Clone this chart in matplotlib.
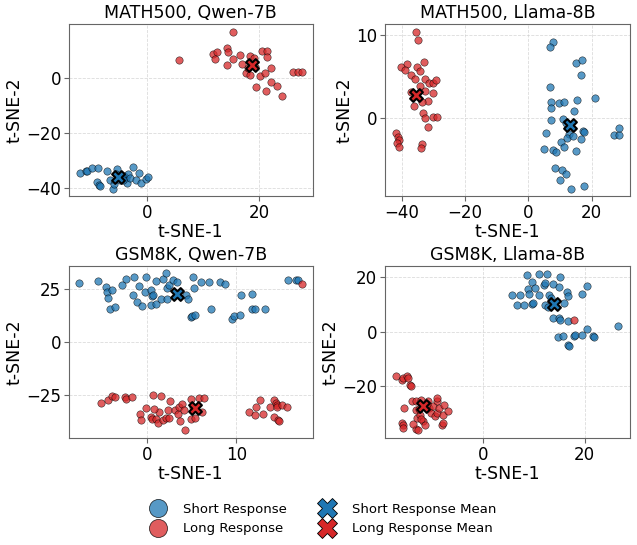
import matplotlib
matplotlib.use("Agg")
import matplotlib.pyplot as plt
from matplotlib.lines import Line2D

short_color = "#1f77b4"
long_color = "#d62728"

titles = ["MATH500, Qwen-7B", "MATH500, Llama-8B", "GSM8K, Qwen-7B", "GSM8K, Llama-8B"]

# MATH500, Qwen-7B
m_qwen_short_x = [-12.0, -11.0, -10.7, -9.9, -8.8, -9.0, -8.7, -8.5, -7.2, -6.7, -6.2, -5.9, -5.4,
                  -4.2, -3.8, -3.6, -3.4, -3.1, -2.6, -2.0, -1.2, -1.5, -0.2, 0.2, -4.9, -4.6, -5.6, -4.4]
m_qwen_short_y = [-34.4, -33.8, -33.6, -32.6, -32.7, -37.6, -38.8, -39.2, -33.8, -36.9, -40.1, -38.5, -33.0,
                  -35.4, -36.1, -37.9, -34.6, -36.3, -32.4, -37.0, -38.1, -34.3, -36.4, -35.8, -37.0, -35.6, -34.9, -36.8]
m_qwen_long_x = [5.6, 15.3, 11.7, 12.4, 12.1, 14.2, 14.3, 14.2, 15.3, 16.5, 16.9, 18.3, 19.1, 17.6, 18.3,
                 19.4, 20.1, 20.5, 21.4, 21.4, 21.0, 22.1, 22.0, 21.1, 23.2, 24.0, 25.9, 26.8, 27.6, 19.2, 17.9]
m_qwen_long_y = [6.3, 16.7, 8.7, 9.4, 6.8, 10.8, 9.3, 4.5, 7.0, 8.3, 5.1, 8.0, 7.3, 1.9, 1.0,
                 -3.3, 0.7, 9.8, 9.9, 7.6, 1.9, 3.7, -1.6, -4.7, -2.9, -6.4, 2.3, 2.3, 2.3, 4.0, 3.6]

# MATH500, Llama-8B
m_llama_short_x = [7.7, 6.7, 15.0, 17.0, 16.6, 6.7, 21.1, 15.2, 7.2, 7.0, 9.7, 11.1, 14.4, 7.0, 10.9, 12.0,
                   5.7, 12.9, 12.3, 14.0, 17.3, 17.7, 16.6, 10.3, 11.1, 4.9, 7.7, 8.6, 15.0, 8.3, 10.5, 11.8,
                   10.1, 13.4, 17.6, 27.2, 28.5, 28.5]
m_llama_short_y = [9.1, 8.5, 6.6, 7.0, 5.2, 3.8, 2.4, 2.2, 2.0, 1.2, 1.9, 2.0, 0.9, -0.2, -0.1, -0.5,
                   -1.7, -1.9, -2.3, -2.1, -1.5, -1.6, -2.5, -2.8, -3.4, -3.7, -3.8, -4.0, -3.9, -5.9, -6.2, -6.6,
                   -7.4, -8.4, -8.1, -2.0, -2.0, -1.2]
m_llama_long_x = [-35.4, -35.0, -38.4, -40.2, -38.9, -33.1, -35.2, -34.3, -37.1, -35.8, -32.6, -31.4, -30.2,
                  -29.1, -34.4, -37.0, -32.8, -30.3, -31.8, -36.1, -33.7, -33.2, -32.7, -30.2, -28.9, -31.8,
                  -42.0, -41.2, -40.8, -41.5, -40.8, -33.7, -33.9]
m_llama_long_y = [10.4, 9.4, 6.5, 6.1, 5.8, 6.7, 6.1, 5.7, 5.2, 4.7, 4.7, 4.3, 4.2,
                  4.6, 3.9, 3.2, 3.3, 3.1, 2.1, 1.5, 2.0, 0.6, 0.0, 0.2, 0.2, -1.0,
                  -1.7, -2.2, -2.6, -2.9, -3.4, -3.1, -3.5]

# GSM8K, Qwen-7B
g_qwen_short_x = [-7.6, -5.5, -4.6, -4.5, -4.4, -4.2, -3.9, -3.6, -2.8, -2.4, -1.5, -1.6, -1.1, -0.9, -0.6,
                  -0.2, -0.1, 0.4, 0.6, 0.7, 0.4, 1.0, 1.0, 1.5, 1.8, 2.1, 2.2, 2.2, 2.5, 2.9, 3.3, 4.4,
                  4.6, 5.1, 5.3, 4.9, 5.0, 5.4, 6.1, 6.9, 7.2, 8.2, 8.7, 9.5, 9.7, 10.4, 10.5, 11.8, 11.8,
                  12.1, 13.2, 15.8, 16.7, 16.9]
g_qwen_short_y = [27.7, 28.9, 25.8, 23.4, 20.8, 15.6, 24.4, 16.7, 26.9, 29.6, 30.5, 22.3, 19.0, 26.3, 17.0,
                  23.7, 30.8, 24.7, 21.5, 22.3, 17.6, 17.8, 28.5, 20.4, 29.7, 32.5, 25.5, 20.4, 26.7, 29.1, 28.3, 21.9,
                  20.1, 30.5, 25.2, 11.8, 12.1, 12.9, 28.3, 28.3, 15.3, 28.3, 27.2, 10.8, 12.3, 12.6, 21.9, 22.6, 15.3,
                  15.3, 15.7, 29.2, 29.1, 29.1]
g_qwen_long_x = [17.4, -5.2, -4.4, -3.9, -3.6, -2.5, -2.4, -1.7, -0.8, -0.7, -0.1, 0.7, 1.6, 0.4, 0.5, 1.0,
                 1.2, 1.3, 0.8, 1.8, 2.1, 2.4, 2.3, 2.6, 3.1, 3.5, 3.6, 3.9, 3.7, 4.1, 4.2, 4.9, 5.1, 4.9,
                 5.4, 5.8, 6.4, 6.2, 11.4, 12.1, 12.2, 12.7, 13.0, 13.8, 14.2, 14.5, 14.6, 14.6, 14.3, 14.7,
                 14.8, 15.2, 15.7]
g_qwen_long_y = [27.2, -28.5, -27.5, -25.3, -26.1, -25.9, -26.7, -25.9, -33.8, -36.9, -31.1, -25.0, -25.3, -35.5, -36.5, -36.3,
                 -38.1, -33.0, -31.6, -36.8, -35.7, -36.0, -32.2, -27.9, -32.1, -33.8, -30.5, -29.4, -37.1, -32.0, -41.4, -26.7, -30.5, -36.1,
                 -35.8, -26.6, -26.6, -33.2, -32.9, -34.6, -30.5, -27.5, -34.1, -30.5, -27.4, -28.9, -29.9, -30.8, -35.5, -36.6,
                 -37.0, -29.7, -30.7]

# GSM8K, Llama-8B
g_llama_short_x = [5.7, 7.2, 6.6, 8.0, 8.7, 8.9, 9.0, 9.6, 9.7, 9.8, 10.2, 11.0, 11.0, 12.0, 12.1, 12.5, 12.1,
                   12.8, 13.0, 13.3, 13.8, 15.0, 15.2, 15.9, 13.8, 15.0, 15.1, 16.5, 16.8, 16.7, 19.5, 20.5,
                   14.8, 15.8, 16.7, 16.9, 17.9, 18.1, 19.5, 20.4, 21.6, 21.8, 26.6]
g_llama_short_y = [13.5, 13.4, 9.8, 9.9, 20.9, 15.6, 13.9, 18.3, 10.3, 10.7, 16.0, 21.2, 13.5, 17.2, 17.9, 21.2, 9.8,
                   9.0, 13.7, 12.3, 17.7, 16.6, 20.2, 10.7, 4.9, 4.9, 4.2, 14.7, 13.0, 3.8, 14.0, 16.7,
                   -2.0, -1.7, -4.7, -5.2, -1.7, -1.1, -1.1, 1.0, -1.5, -2.0, 2.0]
g_llama_long_x = [17.9, -17.1, -15.9, -15.7, -14.9, -14.7, -14.4, -14.2, -15.6, -16.0, -15.7, -15.8, -14.0, -13.1,
                  -13.2, -12.8, -13.8, -13.1, -12.9, -12.4, -12.1, -11.7, -11.3, -10.8, -10.7, -10.2, -9.8, -9.5,
                  -9.1, -9.0, -9.0, -8.7, -8.0, -7.8, -7.9, -7.7, -6.9, -12.1, -11.0, -12.6]
g_llama_long_y = [4.5, -16.1, -17.7, -17.1, -16.2, -16.9, -19.4, -20.0, -27.9, -33.4, -34.2, -35.3, -25.6, -25.6,
                  -35.6, -36.1, -33.9, -28.7, -31.8, -30.6, -25.0, -32.9, -34.4, -25.6, -28.0, -29.8, -27.2, -30.9,
                  -29.9, -25.4, -24.2, -28.0, -34.2, -33.6, -30.7, -27.0, -29.1, -31.9, -26.5, -28.4]

# cluster means
short_means = [(-5.2, -35.8), (13.2, -0.8), (3.3, 22.6), (13.9, 10.1)]
long_means = [(18.7, 4.6), (-35.4, 2.8), (5.4, -31.1), (-11.7, -27.1)]

short_x = [m_qwen_short_x, m_llama_short_x, g_qwen_short_x, g_llama_short_x]
short_y = [m_qwen_short_y, m_llama_short_y, g_qwen_short_y, g_llama_short_y]
long_x = [m_qwen_long_x, m_llama_long_x, g_qwen_long_x, g_llama_long_x]
long_y = [m_qwen_long_y, m_llama_long_y, g_qwen_long_y, g_llama_long_y]

xlims = [(-14.0, 29.5), (-45.4, 32.1), (-8.8, 18.6), (-19.3, 28.9)]
ylims = [(-42.8, 19.5), (-9.3, 11.3), (-45.3, 35.8), (-39.1, 24.2)]
xticks = [[0, 20], [-40, -20, 0, 20], [0, 10], [0, 20]]
yticks = [[-40, -20, 0], [0, 10], [-25, 0, 25], [-20, 0, 20]]

fig = plt.figure(figsize=(6.37, 5.45), dpi=100)
positions = [[0.108, 0.640, 0.383, 0.316], [0.604, 0.640, 0.385, 0.316],
             [0.108, 0.196, 0.383, 0.316], [0.604, 0.196, 0.385, 0.316]]

for i in range(4):
    ax = fig.add_axes(positions[i])
    ax.scatter(short_x[i], short_y[i], s=28, color=short_color, alpha=0.75,
               edgecolors="black", linewidths=0.4, zorder=2)
    ax.scatter(long_x[i], long_y[i], s=28, color=long_color, alpha=0.75,
               edgecolors="black", linewidths=0.4, zorder=2)
    ax.scatter([short_means[i][0]], [short_means[i][1]], s=85, marker="X", color=short_color,
               edgecolors="black", linewidths=1.5, zorder=4)
    ax.scatter([long_means[i][0]], [long_means[i][1]], s=85, marker="X", color=long_color,
               edgecolors="black", linewidths=1.5, zorder=4)
    ax.set_xlim(xlims[i])
    ax.set_ylim(ylims[i])
    ax.set_xticks(xticks[i])
    ax.set_yticks(yticks[i])
    ax.grid(True, linestyle="--", linewidth=0.6, color="#cccccc", alpha=0.7, zorder=0)
    ax.set_axisbelow(True)
    for sp in ax.spines.values():
        sp.set_color("#666666")
    ax.tick_params(labelsize=12, color="#666666", pad=2)
    ax.set_title(titles[i], fontsize=12.5, pad=4)
    ax.set_xlabel("t-SNE-1", fontsize=12.5, labelpad=1)
    ax.set_ylabel("t-SNE-2", fontsize=12.5, labelpad=2)

handles = [
    Line2D([], [], linestyle="none", marker="o", markersize=13, color=short_color, alpha=0.75,
           markeredgecolor="black", markeredgewidth=0.6, label="Short Response"),
    Line2D([], [], linestyle="none", marker="o", markersize=13, color=long_color, alpha=0.75,
           markeredgecolor="black", markeredgewidth=0.6, label="Long Response"),
    Line2D([], [], linestyle="none", marker="X", markersize=14, color=short_color,
           markeredgecolor="black", markeredgewidth=0.6, label="Short Response Mean"),
    Line2D([], [], linestyle="none", marker="X", markersize=14, color=long_color,
           markeredgecolor="black", markeredgewidth=0.6, label="Long Response Mean"),
]
fig.legend(handles=handles, loc="center", bbox_to_anchor=(0.503, 0.048), ncol=2, frameon=False,
           fontsize=9.5, handletextpad=0.9, columnspacing=2.0, labelspacing=0.5)

fig.savefig("out.png", dpi=100)
